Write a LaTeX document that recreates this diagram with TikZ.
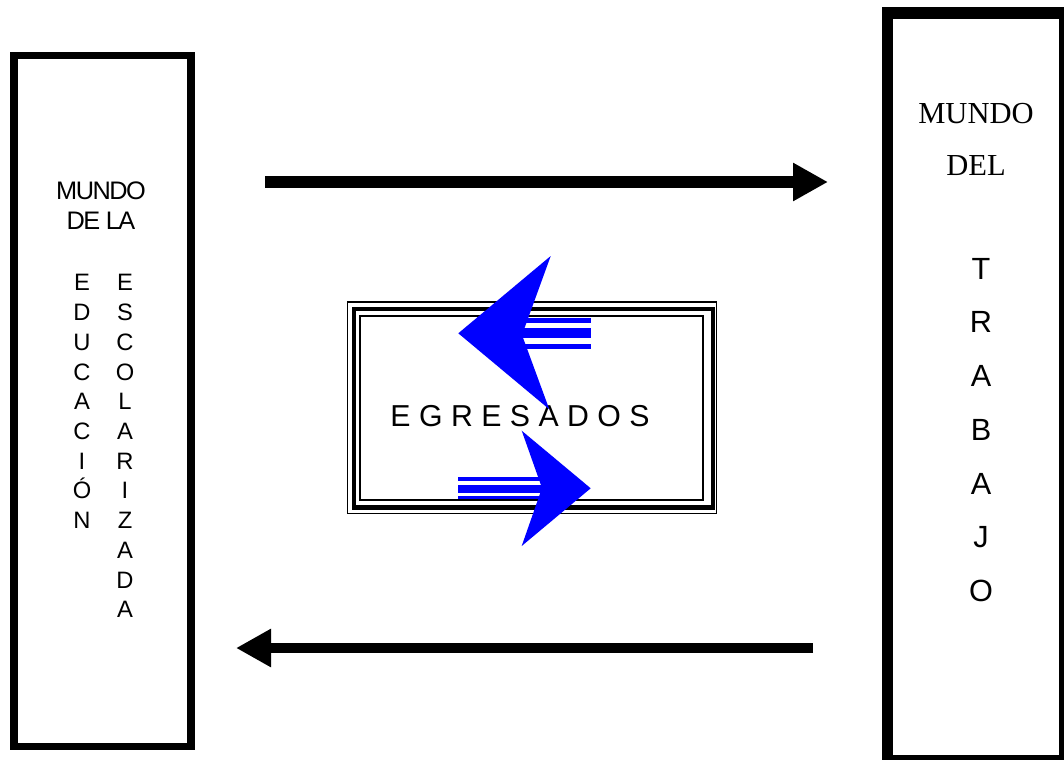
\documentclass[tikz,border=0pt]{standalone}
\usepackage{fontspec}
\setmainfont{Liberation Serif}
\setsansfont{Liberation Sans}
\newfontfamily\tightsans[LetterSpace=-6]{Liberation Sans}
\usetikzlibrary{arrows.meta}
\definecolor{arrowblue}{RGB}{0,0,255}
\newcommand\pxu{0.75pt}
\tikzset{
  worldbox/.style={draw=black, inner sep=0pt, outer sep=0pt},
  label/.style={inner sep=0pt, outer sep=0pt, align=center, anchor=north},
  flow/.style={draw=black, -{Triangle[length=26.25pt,width=27pt]}},
  stripe/.style={fill=arrowblue, draw=none},
  head/.style={fill=arrowblue, draw=none},
}
\begin{document}
\begin{tikzpicture}[x=0.75pt,y=-0.75pt]
\useasboundingbox (0,0) rectangle (1064,760);
\fill[white] (0,0) rectangle (1064,760);

% left box
\node[worldbox, line width=7.5*\pxu, minimum width=133.1pt, minimum height=518.4pt] (edu) at (102.5,401.1) {};
% right box
\node[worldbox, line width=11.5*\pxu, minimum width=132.75pt, minimum height=560.6pt] (trab) at (976,386.75) {};

% left texts
\node[label, font=\tightsans\fontsize{19}{22.5}\selectfont] (edutitle) at (101,181.5) {MUNDO\\DE LA};
\node[label, font=\sffamily\fontsize{17.8}{22.3}\selectfont] (educ) at (82,274.5) {E\\D\\U\\C\\A\\C\\I\\Ó\\N};
\node[label, font=\sffamily\fontsize{17.8}{22.3}\selectfont] (esc) at (125,274.5) {E\\S\\C\\O\\L\\A\\R\\I\\Z\\A\\D\\A};

% right texts
\node[label, font=\rmfamily\fontsize{22.9}{39}\selectfont] (trtitle) at (976,103) {MUNDO\\DEL};
\node[label, font=\sffamily\fontsize{23}{40.3}\selectfont] (trabajo) at (981,258) {T\\R\\A\\B\\A\\J\\O};

% central frame
\draw[line width=1.5*\pxu] (347.5,302) rectangle (716.5,513.3);
\node[worldbox, line width=4.5*\pxu, minimum width=269.25pt, minimum height=148.9pt] (egr) at (533.5,408.25) {};
\draw[line width=2*\pxu] (360.3,316) rectangle (702.5,499.5);

\node[label, font=\sffamily\fontsize{22.7}{27}\selectfont] (egrtext) at (520,405) {E G R E S A D O S};

% black arrows
\coordinate (a1s) at (265,182);
\coordinate (a1e) at (828,182);
\coordinate (a2s) at (813,648);
\coordinate (a2e) at (236,648);
\draw[flow, line width=11.5*\pxu] (a1s) -- (a1e);
\draw[flow, line width=10.5*\pxu] (a2s) -- (a2e);

% blue arrow (to the left)
\fill[stripe] (521,318.3) rectangle (590.7,322.7);
\fill[stripe] (521,328.3) rectangle (590.7,338.3);
\fill[stripe] (521,344) rectangle (590.7,348.7);
\fill[head] (458.3,333.3) -- (550.7,256) -- (522,335) -- (549.3,409.3) -- cycle;

% blue arrow (to the right)
\fill[stripe] (458.3,476.7) rectangle (545,480.7);
\fill[stripe] (458.3,485) rectangle (545,492.7);
\fill[stripe] (458.3,496) rectangle (545,499.3);
\fill[head] (590.7,488.3) -- (521.7,430.7) -- (542,488) -- (521.7,546) -- cycle;
\end{tikzpicture}
\end{document}
